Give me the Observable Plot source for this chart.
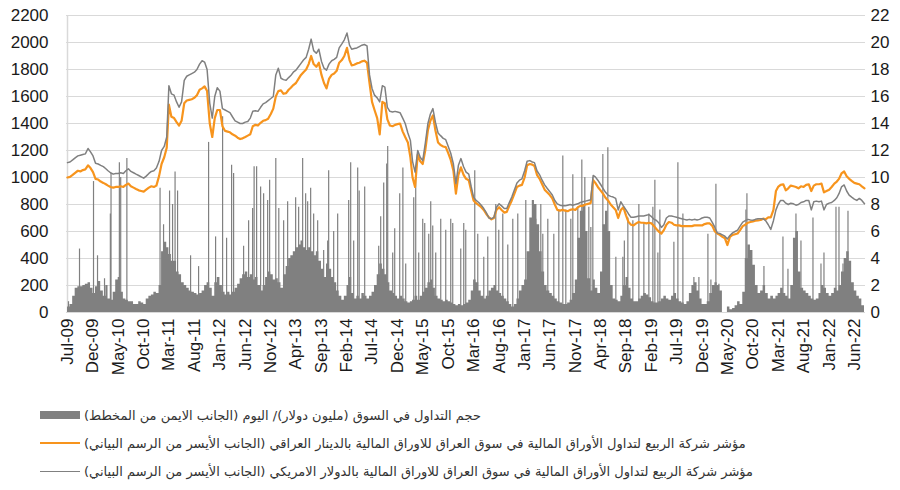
<!DOCTYPE html>
<html><head><meta charset="utf-8">
<script src="https://cdn.jsdelivr.net/npm/d3@7"></script>
<script src="https://cdn.jsdelivr.net/npm/@observablehq/plot@0.6"></script>
<style>
body{margin:0;background:#fff;width:900px;height:490px;overflow:hidden;font-family:"Liberation Sans",Arial,sans-serif}
#legend{padding-top:6px}
.row{display:flex;align-items:center;height:28px}
.sym{width:40px;margin-left:40px;margin-right:4px;flex:none}
.box{height:8px;background:#808080}
.ln-o{height:2px;background:#f7941d}
.ln-g{height:1px;background:#808080}
.txt{font-family:"DejaVu Sans",sans-serif;font-size:13px;color:#333;white-space:nowrap}
</style></head><body>
<div id="chart"></div>
<div id="legend"></div>
<script>
// Tick labels
const leftTicks = [0,200,400,600,800,1000,1200,1400,1600,1800,2000,2200];
const rightLabels = ["0","2","4","6","8","10","12","14","16","18","20","22"];
const xLabels = ["Jul-09","Dec-09","May-10","Oct-10","Mar-11","Aug-11","Jan-12","Jun-12","Nov-12","Apr-13","Sep-13","Feb-14","Jul-14","Dec-14","May-15","Oct-15","Mar-16","Aug-16","Jan-17","Jun-17","Nov-17","Apr-18","Sep-18","Feb-19","Jul-19","Dec-19","May-20","Oct-20","Mar-21","Aug-21","Jan-22","Jun-22"];
const legendLabels = [
 "حجم التداول في السوق (مليون دولار)/  اليوم (الجانب الايمن من المخطط)",
 "مؤشر شركة الربيع لتداول الأوراق المالية في سوق العراق للاوراق المالية بالدينار العراقي (الجانب الأيسر من الرسم البياني)",
 "مؤشر شركة الربيع لتداول الأوراق المالية في سوق العراق للاوراق المالية بالدولار الامريكي (الجانب الأيسر من الرسم البياني)"
];

// Semi-monthly series (1st and 16th of each month), Jul 2009 .. Aug 2022
const iqd = [1000,1005,1020,1035,1050,1045,1055,1060,1090,1070,1040,990,985,970,960,950,940,930,925,930,
930,935,930,945,955,935,925,915,905,900,895,910,925,935,930,940,1010,1100,1150,1220,
1540,1450,1440,1410,1385,1420,1550,1570,1575,1580,1590,1610,1650,1660,1675,1640,1400,1300,1440,1500,
1500,1380,1345,1340,1335,1320,1310,1295,1285,1290,1300,1310,1320,1380,1390,1385,1405,1420,1425,1435,
1470,1510,1600,1640,1645,1620,1625,1650,1665,1685,1700,1730,1760,1780,1800,1840,1900,1840,1820,1850,
1760,1700,1660,1730,1760,1770,1790,1850,1870,1900,1960,1870,1830,1835,1845,1850,1860,1865,1850,1700,
1560,1500,1440,1320,1560,1550,1430,1385,1380,1390,1395,1400,1340,1300,1260,1150,1000,930,1170,1120,
1100,1200,1350,1420,1460,1350,1260,1240,1230,1225,1180,1130,1050,880,1020,1075,1020,990,980,900,
830,810,795,780,760,730,705,690,700,760,780,760,740,745,790,830,880,930,940,945,
1000,1090,1100,1095,1085,1020,990,950,910,890,870,845,800,760,755,760,755,750,760,765,
760,780,790,790,800,805,810,980,960,930,905,880,850,830,800,780,760,700,760,780,
720,670,650,645,660,670,665,665,660,665,660,640,620,600,585,610,650,670,665,650,
645,645,640,640,640,640,640,645,645,645,645,655,660,660,640,600,585,575,560,550,
500,560,575,580,585,610,640,650,665,670,675,680,683,685,695,690,705,705,760,900,
930,945,950,905,920,940,935,930,920,935,930,945,950,900,940,950,950,955,890,900,
910,930,955,970,990,1030,1045,1010,990,975,960,955,950,935,920];
const usd = [1110,1115,1130,1145,1160,1165,1170,1175,1215,1190,1160,1105,1100,1090,1080,1065,1050,1035,1025,1030,
1030,1035,1030,1050,1065,1045,1035,1025,1015,1005,995,1010,1030,1045,1050,1070,1120,1200,1230,1300,
1680,1620,1610,1560,1520,1560,1720,1750,1760,1770,1780,1800,1840,1865,1855,1800,1550,1440,1600,1665,
1640,1510,1500,1490,1480,1450,1420,1410,1400,1400,1410,1415,1440,1490,1495,1490,1520,1545,1555,1570,
1585,1600,1760,1810,1735,1725,1720,1740,1755,1780,1795,1820,1845,1870,1890,1950,2025,1940,1920,1950,
1860,1810,1795,1840,1865,1875,1890,1960,1990,2020,2070,1980,1950,1955,1960,1970,1980,1985,1975,1760,
1660,1610,1590,1560,1680,1670,1520,1490,1485,1490,1485,1480,1440,1400,1330,1275,1120,1040,1200,1150,
1125,1250,1400,1470,1510,1410,1330,1310,1290,1280,1230,1180,1100,955,1090,1140,1080,1040,1025,930,
855,830,815,795,770,740,700,695,705,780,805,790,770,770,815,855,910,960,980,990,
1050,1120,1125,1115,1110,1050,1020,980,945,920,895,870,830,805,795,790,790,795,800,795,
800,805,815,820,825,830,835,1015,1005,980,950,920,890,870,860,855,845,760,820,790,
760,730,705,705,710,715,715,715,720,725,710,690,683,665,630,650,700,715,715,710,
705,700,695,690,685,690,685,690,685,690,700,705,705,700,665,630,590,585,575,565,
545,570,590,600,610,640,670,680,690,685,683,690,695,695,695,680,650,615,680,760,
800,830,830,810,800,810,805,795,800,815,820,830,830,760,820,825,820,825,760,800,
810,815,830,850,880,930,945,900,870,855,840,830,845,830,805];
// Daily trading volume, typical level per half month (million USD)
const vol = [0.4,0.6,1.2,1.8,1.9,1.9,2.0,2.1,2.2,1.8,1.4,1.9,2.3,1.6,1.2,2.0,1.0,0.9,1.5,2.4,
2.6,1.5,1.0,0.9,0.8,0.8,0.6,0.6,0.8,0.7,0.6,1.0,1.2,1.3,1.5,1.4,2.0,4.5,5.2,4.8,
4.3,3.8,3.8,3.0,2.8,2.2,2.0,1.8,1.6,1.5,1.4,1.3,1.4,1.6,2.0,2.2,1.8,1.2,2.2,2.6,
2.0,1.5,1.3,1.5,1.3,1.5,1.8,2.1,2.5,2.8,3.0,2.6,2.8,2.4,2.6,2.0,1.6,2.0,2.6,3.0,
2.8,2.4,2.5,2.2,1.8,2.8,3.4,4.0,4.2,4.5,4.8,5.0,5.3,4.8,4.6,4.8,4.5,4.2,4.5,3.8,
3.2,2.6,3.6,3.2,2.6,2.2,1.6,1.2,0.9,1.2,2.0,2.6,1.4,1.0,1.2,1.0,1.4,1.2,1.0,1.2,
1.5,2.0,2.8,3.6,3.2,2.8,2.2,1.6,1.4,1.2,1.0,1.2,1.0,0.8,0.7,0.8,0.9,1.2,0.9,1.2,
1.5,1.8,2.2,2.4,1.8,1.2,1.0,0.9,0.8,0.9,0.8,0.7,0.6,0.5,0.6,0.5,0.6,0.7,0.9,1.6,
2.4,2.2,1.6,1.2,1.0,1.2,1.6,1.8,2.0,1.6,1.4,1.2,1.0,0.8,0.6,0.4,0.6,1.0,1.6,2.0,
2.4,4.5,7.0,8.3,8.0,6.5,4.5,3.0,2.0,1.6,1.4,1.2,1.0,0.8,0.7,0.6,0.6,0.7,0.9,1.4,
2.4,5.5,7.5,8.0,6.0,2.5,1.6,2.4,1.8,1.4,3.0,6.5,7.5,6.0,2.0,1.0,0.9,0.8,1.2,2.0,
2.6,1.8,1.0,0.8,0.8,1.0,1.2,1.4,1.3,1.1,0.8,0.7,0.7,0.8,1.0,1.2,1.0,0.9,1.2,1.4,
1.0,0.8,0.7,0.6,0.8,1.4,2.0,2.2,1.6,1.0,0.6,0.6,0.8,1.4,2.0,2.2,2.0,1.6,0,0,
0.4,0.2,0.3,0.5,0.8,0.6,1.5,4.0,5.0,4.6,3.5,2.0,1.4,1.6,2.0,1.4,1.0,1.2,1.0,1.2,
1.4,1.8,1.4,1.2,1.0,2.0,5.5,6.0,3.0,1.8,1.6,1.4,1.2,1.0,0.9,1.0,1.4,2.0,1.8,1.4,
1.2,1.4,1.8,1.6,2.0,3.0,4.0,4.5,3.8,2.2,1.6,1.2,1.0,0.5,0.8];
// Single-day volume spikes (million USD)
const spikeDates = ["2009-07-07","2009-09-11","2009-12-04","2009-12-28","2010-02-08","2010-03-15","2010-03-19","2010-05-08","2010-05-16","2010-06-22",
"2011-01-07","2011-01-28","2011-03-05","2011-03-23","2011-04-07","2011-04-22","2011-07-09","2011-08-26","2011-10-25","2011-12-06",
"2012-01-17","2012-02-10","2012-03-11","2012-03-23","2012-05-22","2012-06-21","2012-07-15","2012-07-24","2012-08-08","2012-09-01",
"2012-09-19","2012-10-13","2012-10-25","2012-12-01","2012-12-19","2013-01-17","2013-02-10","2013-03-30","2013-04-17","2013-05-11",
"2013-05-29","2013-06-10","2013-06-28","2013-07-16","2013-08-09","2013-09-14","2013-10-08","2013-10-14","2013-11-13","2013-12-07",
"2014-02-11","2014-02-23","2014-03-13","2014-04-06","2014-04-15","2014-05-18","2014-08-10","2014-08-22","2014-09-09","2014-09-27",
"2014-10-03","2014-11-02","2014-11-14","2014-12-14","2015-01-02","2015-01-19","2015-03-08","2015-03-20","2015-04-07","2015-05-01",
"2015-05-13","2015-06-06","2015-06-18","2015-06-30","2015-07-18","2015-08-17","2015-09-16","2015-10-16","2015-10-28","2015-12-15",
"2016-01-02","2016-01-14","2016-03-08","2016-03-26","2016-05-01","2016-05-25","2016-07-12","2016-07-30","2016-08-23","2016-09-22",
"2016-10-22","2016-11-21","2017-01-08","2017-03-09","2017-04-08","2017-04-20","2017-05-20","2017-06-25","2017-07-25","2017-08-18",
"2017-09-05","2017-10-05","2017-10-17","2017-11-16","2017-12-10","2017-12-28","2018-01-21","2018-02-02","2018-02-14","2018-04-15",
"2018-05-15","2018-07-02","2018-08-13","2018-08-22","2018-09-12","2018-10-12","2018-11-17","2018-12-17","2019-01-16","2019-02-09",
"2019-02-21","2019-03-11","2019-03-23","2019-06-15","2019-07-09","2019-08-08","2019-10-13","2019-11-12","2020-01-05","2020-01-23",
"2020-02-22","2020-03-11","2020-08-20","2020-08-26","2020-12-06","2021-03-30","2021-04-29","2021-06-16","2021-07-16","2021-09-26",
"2021-11-13","2021-12-01","2022-02-11","2022-03-01","2022-03-25","2022-04-24"];
const spikeVols = [0.8,4.7,9.7,4.2,2.5,7.3,10.3,11.1,10.0,11.4,
9.2,6.5,9.0,8.0,10.4,9.0,4.2,3.4,12.6,5.6,
14.5,5.5,10.9,10.3,4.9,6.8,7.7,10.8,10.8,9.3,
8.8,8.3,9.8,11.4,7.7,6.8,8.2,8.5,7.8,11.4,
8.8,8.2,9.2,7.3,6.8,4.6,5.3,10.5,6.0,7.3,
8.3,11.1,5.3,10.7,9.0,9.3,4.9,7.1,9.6,11.0,
12.3,4.4,6.2,8.8,10.7,3.6,8.5,10.7,4.4,6.9,
6.6,5.8,8.2,6.4,4.4,6.9,6.1,6.9,6.6,4.7,
6.6,6.1,10.5,5.8,4.1,5.6,8.0,6.1,7.3,5.0,
6.9,7.3,8.3,6.9,8.0,5.8,6.9,5.8,7.6,11.6,
7.6,6.9,10.2,7.8,11.3,10.0,7.8,6.3,10.0,11.7,
12.2,4.1,4.1,5.3,7.0,6.8,8.0,6.6,7.3,7.8,
9.8,4.4,7.6,5.2,11.1,7.3,2.6,2.6,5.8,2.4,
9.5,2.1,7.6,8.8,3.4,5.6,3.2,7.3,5.3,7.0,
3.6,4.4,7.8,7.8,3.6,7.5];

const t0 = new Date(Date.UTC(2009,6,1));
const half = h => { const d = d3.utcMonth.offset(t0, Math.floor(h/2)); return h % 2 ? d3.utcDay.offset(d, 15) : d; };
const xDomain = [new Date(Date.UTC(2009,5,25)), new Date(Date.UTC(2022,7,7))];
const rows = iqd.map((v,h) => ({date: half(h), iqd: v, usd: usd[h], vol: vol[h]}));
const spikes = spikeDates.map((s,i) => ({date: new Date(s+"T00:00:00Z"), v: spikeVols[i]}));
const parseM = d3.utcParse("%b-%y");
const xTicks = xLabels.map(parseM);

const chart = Plot.plot({
  width: 900, height: 395,
  marginLeft: 66, marginRight: 35, marginTop: 15, marginBottom: 83,
  style: {fontFamily: "'Liberation Sans', Arial, sans-serif", fontSize: "17px", color: "#1a1a1a", background: "#fff"},
  x: {type: "utc", domain: xDomain},
  y: {domain: [0, 2200]},
  marks: [
    Plot.gridY(leftTicks, {stroke: "#d9d9d9", strokeOpacity: 1}),
    Plot.ruleX([rows[0].date], {stroke: "#d9d9d9", strokeWidth: 1.5}),
    Plot.areaY(rows, {x: "date", y: d => d.vol*100, curve: "step-after", fill: "#808080"}),
    Plot.ruleX(spikes, {x: "date", y1: 0, y2: d => d.v*100, stroke: "#808080", strokeWidth: 1.2}),
    Plot.line(rows, {x: "date", y: "iqd", stroke: "#f7941d", strokeWidth: 2.2}),
    Plot.line(rows, {x: "date", y: "usd", stroke: "#808080", strokeWidth: 1.5}),
    Plot.axisY(leftTicks, {anchor: "left", tickSize: 0, tickPadding: 18, tickFormat: d => String(d)}),
    Plot.axisY(leftTicks, {anchor: "right", tickSize: 0, tickPadding: 5, tickFormat: d => rightLabels[leftTicks.indexOf(d)]}),
    Plot.axisX(xTicks, {tickSize: 0, tickPadding: 6, tickRotate: -90, tickFormat: (d,i) => xLabels[i]})
  ]
});
document.getElementById("chart").appendChild(chart);

const syms = ["box","ln-o","ln-g"];
const legend = document.getElementById("legend");
legendLabels.forEach((t,i) => {
  const row = document.createElement("div"); row.className = "row";
  const s = document.createElement("span"); s.className = "sym " + syms[i];
  const tx = document.createElement("span"); tx.className = "txt"; tx.dir = "rtl"; tx.textContent = t;
  row.appendChild(s); row.appendChild(tx); legend.appendChild(row);
});
</script>
</body></html>
